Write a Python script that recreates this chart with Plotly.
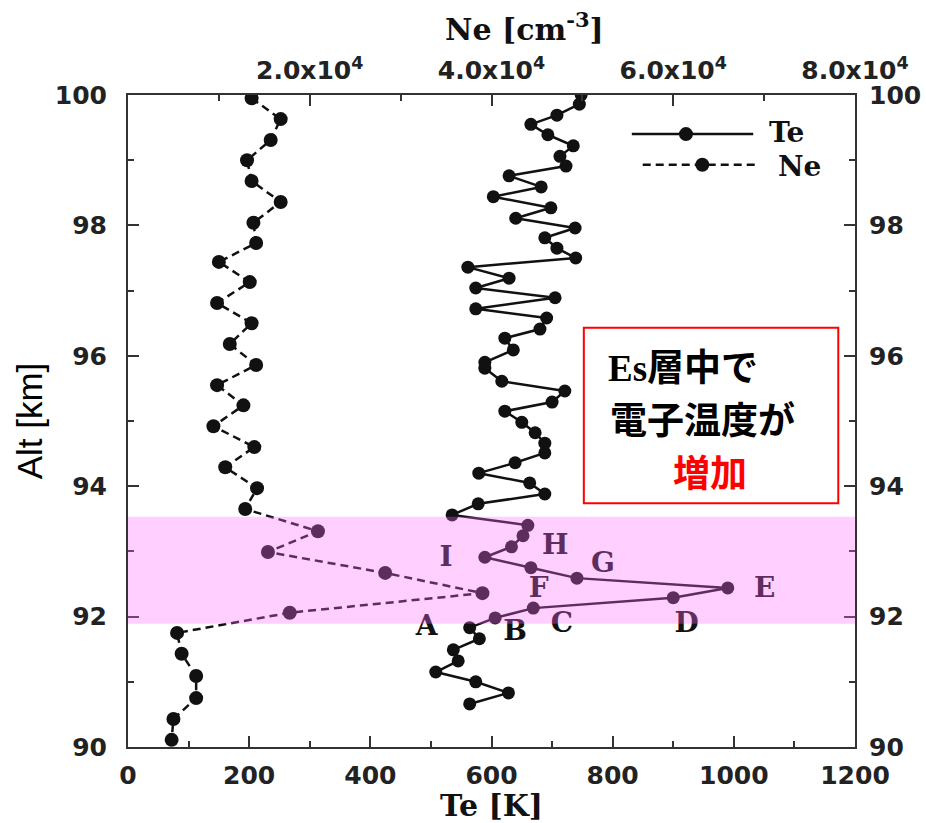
import plotly.graph_objects as go

# ---------------- data ----------------
te_alt = [100.00, 99.86, 99.69, 99.55, 99.39, 99.22, 99.06, 98.91, 98.76, 98.59,
          98.44, 98.27, 98.11, 97.96, 97.81, 97.65, 97.50, 97.36, 97.19, 97.04,
          96.89, 96.72, 96.58, 96.41, 96.27, 96.09, 95.90, 95.81, 95.61, 95.46,
          95.29, 95.15, 94.98, 94.82, 94.66, 94.51, 94.36, 94.20, 94.05, 93.88,
          93.73, 93.56, 93.40, 93.24, 93.07, 92.91, 92.75, 92.59, 92.44, 92.29,
          92.13, 91.98, 91.83, 91.66, 91.49, 91.32, 91.15, 91.00, 90.83, 90.66]
te_val = [748, 745, 708, 665, 693, 735, 713, 723, 629, 682,
          603, 698, 640, 738, 688, 708, 739, 561, 629, 574,
          705, 574, 691, 680, 622, 636, 589, 589, 617, 721,
          700, 622, 650, 672, 688, 688, 639, 579, 663, 688,
          578, 535, 660, 652, 633, 589, 665, 741, 990, 900,
          669, 606, 564, 580, 537, 545, 508, 574, 628, 564]

ne_alt = [99.95, 99.63, 99.31, 99.00, 98.68, 98.36, 98.04, 97.73, 97.44, 97.13,
          96.81, 96.50, 96.18, 95.86, 95.55, 95.24, 94.92, 94.60, 94.29, 93.97,
          93.65, 93.31, 92.99, 92.67, 92.36, 92.06, 91.75, 91.43, 91.09, 90.75,
          90.43, 90.11]
ne_val = [13600, 16800, 15700, 13100, 13600, 16800, 13800, 14100, 10000, 13400,
          9800, 13600, 11200, 14100, 9800, 12700, 9400, 13900, 10700, 14200,
          12900, 20900, 15400, 28300, 39000, 17800, 5400, 5900, 7500, 7500,
          5000, 4800]

label_text = ["A", "B", "C", "D", "E", "F", "G", "H", "I"]
label_te = [493, 639, 716, 922, 1051, 678, 784, 705, 525]
label_alt = [91.83, 91.75, 91.87, 91.87, 92.41, 92.41, 92.79, 93.07, 92.88]

te_ticks = [0, 200, 400, 600, 800, 1000, 1200]
ne_tickvals = [20000, 40000, 60000, 80000]
ne_ticktext = ["2.0x10<sup>4</sup>", "4.0x10<sup>4</sup>", "6.0x10<sup>4</sup>", "8.0x10<sup>4</sup>"]
alt_ticks = [90, 92, 94, 96, 98, 100]
es_band = [91.89, 93.53]

callout_lines = ["<span style=\"font-family:'Liberation Serif'\">Es</span>層中で",
                 "電子温度が",
                 "増加"]

# ---------------- styles ----------------
AX = "#333333"
INK = "#111111"
tickfont = dict(family="DejaVu Sans", size=25, color="#222222", weight="bold")
title_font = dict(family="DejaVu Serif", size=30, color=INK, weight="bold")
DASH = "8px,5px"

fig = go.Figure()
fig.add_trace(go.Scatter(x=label_te, y=label_alt, text=label_text, mode="text",
                         textposition="middle center",
                         textfont=dict(family="DejaVu Serif", size=28, color=INK, weight="bold"),
                         hoverinfo="skip", showlegend=False))
fig.add_trace(go.Scatter(x=te_val, y=te_alt, name="Te", mode="lines+markers",
                         line=dict(color=INK, width=2.5),
                         marker=dict(size=13, color=INK), showlegend=False))
fig.add_trace(go.Scatter(x=ne_val, y=ne_alt, name="Ne", mode="lines+markers",
                         xaxis="x2", yaxis="y2",
                         line=dict(color=INK, width=2.5, dash=DASH),
                         marker=dict(size=14, color=INK), showlegend=False))

common_axis = dict(showline=True, linecolor=AX, linewidth=2, showgrid=False, zeroline=False,
                   ticks="inside", ticklen=11, tickwidth=2, tickcolor=AX, tickfont=tickfont,
                   automargin=False)

fig.update_layout(
    width=926, height=823,
    margin=dict(l=128, r=71, t=95, b=76),
    paper_bgcolor="white", plot_bgcolor="white",
    showlegend=False,
    xaxis=dict(range=[0, 1200], tickvals=te_ticks, ticklabelstandoff=5,
               minor=dict(dtick=100, tick0=0, ticks="inside", ticklen=6, tickwidth=2, tickcolor=AX),
               title=dict(text="Te [K]", font=title_font, standoff=6),
               **common_axis),
    xaxis2=dict(range=[0, 80000], overlaying="x", side="top", anchor="y",
                tickvals=ne_tickvals, ticktext=ne_ticktext, ticklabelstandoff=4,
                minor=dict(dtick=10000, tick0=0, ticks="inside", ticklen=6, tickwidth=2, tickcolor=AX),
                **common_axis),
    yaxis=dict(range=[90, 100], tickvals=alt_ticks, ticklabelstandoff=14,
               minor=dict(dtick=1, tick0=90, ticks="inside", ticklen=6, tickwidth=2, tickcolor=AX),
               title=dict(text="Alt [km]", font=dict(family="Liberation Sans", size=35, color="black"),
                          standoff=2),
               **common_axis),
    yaxis2=dict(range=[90, 100], overlaying="y", side="right", anchor="x",
                tickvals=alt_ticks, ticklabelstandoff=7,
                minor=dict(dtick=1, tick0=90, ticks="inside", ticklen=6, tickwidth=2, tickcolor=AX),
                **common_axis),
)

# Es layer band
fig.add_shape(type="rect", xref="paper", yref="y", x0=0, x1=1, y0=es_band[0], y1=es_band[1],
              fillcolor="rgb(255,110,255)", opacity=0.32, line=dict(width=0), layer="above")

# Top axis title
fig.add_annotation(text="Ne [cm<sup>-3</sup>]", xref="paper", yref="paper", x=0.546, y=1.105,
                   xanchor="center", yanchor="middle", showarrow=False, font=title_font)

# Manual legend
leg_font = dict(family="DejaVu Serif", size=28, color=INK, weight="bold")
fig.add_shape(type="line", xref="paper", yref="paper", x0=0.693, x1=0.860, y0=0.940, y1=0.940,
              line=dict(color=INK, width=2.5), layer="above")
fig.add_shape(type="circle", xref="paper", yref="paper", xsizemode="pixel", ysizemode="pixel",
              xanchor=0.7675, yanchor=0.940, x0=-7, x1=7, y0=-7, y1=7,
              fillcolor=INK, line=dict(width=0), layer="above")
fig.add_shape(type="line", xref="paper", yref="paper", x0=0.708, x1=0.864, y0=0.893, y1=0.893,
              line=dict(color=INK, width=2.5, dash=DASH), layer="above")
fig.add_shape(type="circle", xref="paper", yref="paper", xsizemode="pixel", ysizemode="pixel",
              xanchor=0.790, yanchor=0.893, x0=-7, x1=7, y0=-7, y1=7,
              fillcolor=INK, line=dict(width=0), layer="above")
fig.add_annotation(text="Te", xref="paper", yref="paper", x=0.879, y=0.942, xanchor="left",
                   yanchor="middle", showarrow=False, font=leg_font)
fig.add_annotation(text="Ne", xref="paper", yref="paper", x=0.891, y=0.891, xanchor="left",
                   yanchor="middle", showarrow=False, font=leg_font)

# Callout box
fig.add_shape(type="rect", xref="paper", yref="paper", x0=0.627, x1=0.977, y0=0.374, y1=0.643,
              fillcolor="white", line=dict(color="red", width=2), layer="above")
jp = dict(family="Noto Sans CJK JP", size=37, color="black", weight="bold")
fig.add_annotation(text=callout_lines[0], xref="paper", yref="paper", x=0.6575, y=0.5859,
                   xanchor="left", yanchor="middle", showarrow=False, font=jp)
fig.add_annotation(text=callout_lines[1], xref="paper", yref="paper", x=0.6600, y=0.5046,
                   xanchor="left", yanchor="middle", showarrow=False, font=jp)
fig.add_annotation(text=callout_lines[2], xref="paper", yref="paper", x=0.8006, y=0.4233,
                   xanchor="center", yanchor="middle", showarrow=False,
                   font=dict(family="Noto Sans CJK JP", size=37, color="red", weight="bold"))

fig.write_html("out.html")
